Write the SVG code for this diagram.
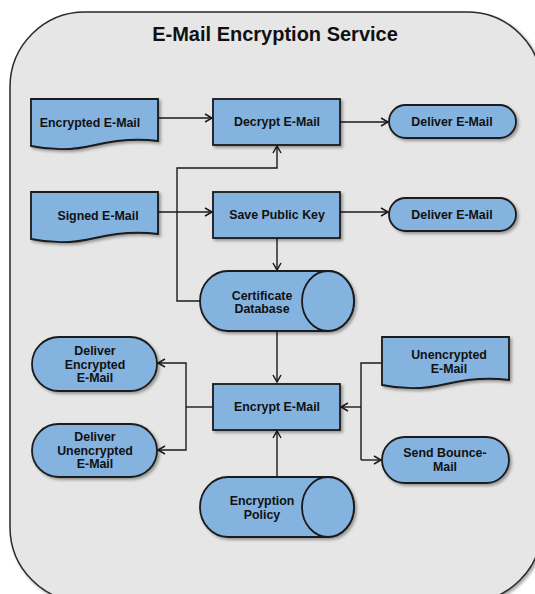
<svg xmlns="http://www.w3.org/2000/svg" width="535" height="594" viewBox="0 0 535 594">
<defs>
<filter id="sh" x="-10%" y="-10%" width="130%" height="140%">
<feDropShadow dx="2" dy="2" stdDeviation="1.5" flood-color="#000" flood-opacity="0.35"/>
</filter>
<marker id="arr" markerWidth="10" markerHeight="10" refX="8" refY="5" orient="auto" markerUnits="userSpaceOnUse">
<path d="M1,1 L8,5 L1,9" fill="none" stroke="#1a1a1a" stroke-width="1.5"/>
</marker>
<style>
.n{fill:#84B3E0;stroke:#1a1a1a;stroke-width:1.8;filter:url(#sh)}
.t{font-family:"Liberation Sans",Arial,sans-serif;font-weight:bold;font-size:12.4px;fill:#111;text-anchor:middle}
.c{fill:none;stroke:#1a1a1a;stroke-width:1.4}
.ca{fill:none;stroke:#1a1a1a;stroke-width:1.4;marker-end:url(#arr)}
</style>
</defs>
<rect width="535" height="594" fill="#fff"/>
<g id="container">
<rect x="10" y="12" width="532" height="590" rx="75" ry="75" fill="#E6E6E6" stroke="#2a2a2a" stroke-width="1.5" filter="url(#sh)"/>
<text x="275" y="41" font-family="Liberation Sans,Arial,sans-serif" font-weight="bold" font-size="20" text-anchor="middle" fill="#111">E-Mail Encryption Service</text>
</g>
<g id="connectors">
<path class="ca" d="M158,118 H212"/>
<path class="ca" d="M340,122 H388"/>
<path class="ca" d="M200,301 H177 V168 H277 V146"/>
<path class="ca" d="M158,212 H212"/>
<path class="ca" d="M340,212 H388"/>
<path class="ca" d="M277,238 V270"/>
<path class="ca" d="M277,331 V382"/>
<path class="c" d="M213,407 H186"/>
<path class="ca" d="M186,407 V363 H158"/>
<path class="ca" d="M186,407 V450 H158"/>
<path class="c" d="M382,363 H361 V460"/>
<path class="ca" d="M361,407 H341"/>
<path class="ca" d="M361,460 H381"/>
<path class="ca" d="M277,477 V431"/>
</g>
<g id="encrypted-email">
<path class="n" d="M31,99 H158 V141 C135,138 112,141 95,145 C75,150 55,151 31,146 Z"/>
<text class="t" x="90" y="127">Encrypted E-Mail</text>
</g>
<g id="decrypt-email">
<rect class="n" x="213" y="99" width="127" height="46"/>
<text class="t" x="277" y="126">Decrypt E-Mail</text>
</g>
<g id="deliver-email-1">
<rect class="n" x="389" y="105" width="127" height="33" rx="16.5" ry="16.5"/>
<text class="t" x="452" y="126">Deliver E-Mail</text>
</g>
<g id="signed-email">
<path class="n" d="M31,192 H158 V234 C135,231 112,234 95,238 C75,243 55,244 31,239 Z"/>
<text class="t" x="98" y="220">Signed E-Mail</text>
</g>
<g id="save-public-key">
<rect class="n" x="213" y="192" width="127" height="46"/>
<text class="t" x="277" y="219">Save Public Key</text>
</g>
<g id="deliver-email-2">
<rect class="n" x="389" y="198" width="127" height="33" rx="16.5" ry="16.5"/>
<text class="t" x="452" y="219">Deliver E-Mail</text>
</g>
<g id="certificate-database">
<path class="n" d="M228,271 H328 A26,30 0 0 1 328,331 H228 A28,30 0 0 1 228,271 Z"/>
<ellipse cx="328" cy="301" rx="26" ry="30" fill="#84B3E0" stroke="#1a1a1a" stroke-width="1.8"/>
<text class="t" x="262" y="300">Certificate</text>
<text class="t" x="262" y="313">Database</text>
</g>
<g id="encrypt-email">
<rect class="n" x="213" y="384" width="127" height="46"/>
<text class="t" x="277" y="411">Encrypt E-Mail</text>
</g>
<g id="deliver-encrypted-email">
<rect class="n" x="32" y="337" width="125" height="54" rx="27" ry="27"/>
<text class="t" x="95" y="355">Deliver</text>
<text class="t" x="95" y="368.5">Encrypted</text>
<text class="t" x="95" y="382">E-Mail</text>
</g>
<g id="deliver-unencrypted-email">
<rect class="n" x="32" y="424" width="125" height="53" rx="26.5" ry="26.5"/>
<text class="t" x="95" y="441">Deliver</text>
<text class="t" x="95" y="454.5">Unencrypted</text>
<text class="t" x="95" y="468">E-Mail</text>
</g>
<g id="unencrypted-email">
<path class="n" d="M382,337 H509 V380 C486,377 463,380 446,384 C426,389 406,390 382,385 Z"/>
<text class="t" x="449" y="359">Unencrypted</text>
<text class="t" x="449" y="373">E-Mail</text>
</g>
<g id="send-bounce-mail">
<rect class="n" x="382" y="437" width="127" height="46" rx="23" ry="23"/>
<text class="t" x="445" y="457">Send Bounce-</text>
<text class="t" x="445" y="471">Mail</text>
</g>
<g id="encryption-policy">
<path class="n" d="M228,477 H328 A26,30 0 0 1 328,537 H228 A28,30 0 0 1 228,477 Z"/>
<ellipse cx="328" cy="507" rx="26" ry="30" fill="#84B3E0" stroke="#1a1a1a" stroke-width="1.8"/>
<text class="t" x="262" y="505">Encryption</text>
<text class="t" x="262" y="519">Policy</text>
</g>
</svg>
